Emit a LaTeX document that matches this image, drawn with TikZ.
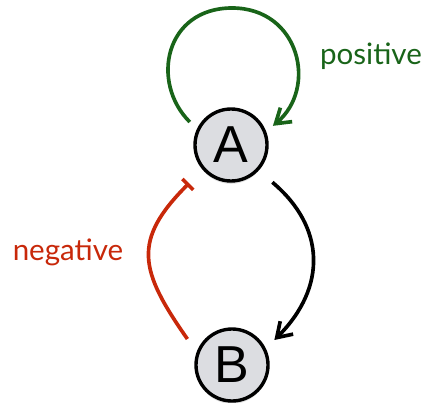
\documentclass[tikz,border=0pt]{standalone}
\usepackage{fontspec}
\setmainfont{Lato}
\newfontfamily\genefont{Liberation Sans}
\usetikzlibrary{arrows.meta,shadows}
\definecolor{posgreen}{RGB}{25,100,25}
\definecolor{negred}{RGB}{200,40,10}
\definecolor{genegray}{RGB}{220,221,225}

\begin{document}
\begin{tikzpicture}[
  gene/.style={circle, draw=black, line width=2.4pt, fill=genegray,
               minimum size=1.8cm, inner sep=0pt,
               font=\genefont\fontsize{37}{37}\selectfont,
               drop shadow={shadow xshift=0pt, shadow yshift=-2pt, opacity=0.25}},
  act/.style={line width=2.6pt, -{Straight Barb[length=10pt,width=13pt]}},
  inh/.style={line width=2.6pt, -{Bar[width=11pt]}},
  lbl/.style={font=\fontsize{21}{21}\selectfont, anchor=base}
]
  \useasboundingbox (0,0) rectangle (10.575,-10.05);
  \node[gene] (A) at (5.775,-3.625) {A};
  \node[gene] (B) at (5.8,-9.125)   {B};
  \coordinate (loopTop) at (5.8,-0.2);
  % self activation
  \draw[act, posgreen, shorten <=0.25cm, shorten >=0.22cm]
    (A.155) to[out=135, in=180, looseness=1.35] (loopTop)
            to[out=0, in=40, looseness=1.35] (A.21);
  % A activates B, B represses A
  \draw[act, shorten <=0.45cm, shorten >=0.3cm]
    (A.-43) to[out=-40, in=45, looseness=1.25] (B.26);
  \draw[inh, negred, shorten <=0.4cm, shorten >=0.475cm]
    (B.160) to[out=125, in=-135, looseness=1.4] (A.221);
  \node[lbl, text=posgreen] (posLbl) at (9.275,-1.625) {positive};
  \node[lbl, text=negred]   (negLbl) at (1.7,-6.5)     {negative};
\end{tikzpicture}
\end{document}
